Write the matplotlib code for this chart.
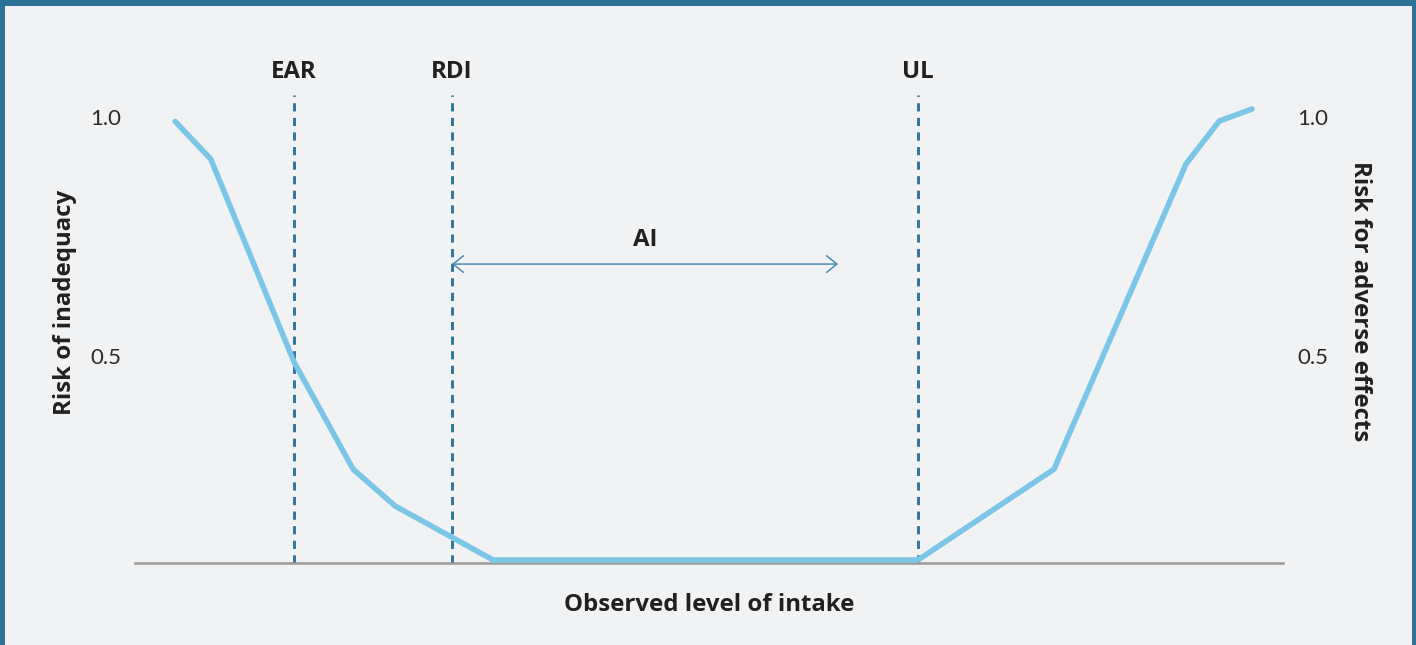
import matplotlib.pyplot as plt
from matplotlib.patches import Rectangle

# --- data (schematic: intake in arbitrary units, risk 0..1) ---
intake_left = [3.5, 6.6, 13.85, 19.0, 22.65, 31.2]
risk_left = [0.99, 0.905, 0.447, 0.205, 0.122, 0.0]
intake_right = [68.2, 80.05, 91.55, 94.45, 97.3]
risk_right = [0.0, 0.205, 0.894, 0.991, 1.018]

ref_names = ["EAR", "RDI", "UL"]
ref_intake = [13.85, 27.6, 68.2]

ai_start, ai_end = 27.6, 61.25
ai_level = 0.668

ytick_pos = [0.46, 1.0]
ytick_labels = ["0.5", "1.0"]

BG = "#f1f2f4"
BORDER = "#2d7398"
LINE = "#7bc5e7"
DASH = "#2f7499"
TEXT = "#231f20"

plt.rcParams["font.family"] = ["Lato", "DejaVu Sans"]
LABEL_FONT = dict(family=["Open Sans", "DejaVu Sans"], fontsize=17.3, fontweight="bold", color=TEXT)

W, H = 1416, 645
fig = plt.figure(figsize=(W / 100, H / 100), dpi=100, facecolor=BG)

# frame around the card (top, left, right only)
for x0, y0, w, h in [(0, H - 6, W, 6), (0, 0, 5, H), (W - 4, 0, 4, H)]:
    fig.add_artist(Rectangle((x0 / W, y0 / H), w / W, h / H, transform=fig.transFigure,
                             facecolor=BORDER, edgecolor="none"))

ax = fig.add_axes([135 / W, (H - 563.1) / H, 1148 / W, 534.7 / H])
ax.set_facecolor(BG)
ax.set_xlim(0, 100)
ax.set_ylim(-0.007, 1.2)

# curves
ax.plot(intake_left + intake_right, risk_left + risk_right, color=LINE, lw=4.0,
        solid_capstyle="round", solid_joinstyle="round", zorder=3)

# reference lines
for name, x in zip(ref_names, ref_intake):
    ax.vlines(x, -0.007, 1.05, colors=DASH, lw=2.1, linestyles=(0, (2.8, 2.2)), zorder=2)
    ax.text(x, 1.102, name, ha="center", va="center", clip_on=False, **LABEL_FONT)

# AI range arrow
ax.annotate("", xy=(ai_end, ai_level), xytext=(ai_start, ai_level),
            arrowprops=dict(arrowstyle="<->,head_length=0.75,head_width=0.6",
                            color="#4a8cb1", lw=1.1, shrinkA=0, shrinkB=0))
ax.text((ai_start + ai_end) / 2, 0.722, "AI", ha="center", va="center", **LABEL_FONT)

for side in ["top", "left", "right"]:
    ax.spines[side].set_visible(False)
ax.spines["bottom"].set_color("#9a9a9a")
ax.spines["bottom"].set_linewidth(1.8)
ax.set_xticks([])
ax.set_yticks(ytick_pos)
ax.set_yticklabels(ytick_labels)
ax.tick_params(axis="y", length=0, pad=10, labelsize=16, labelcolor="#2a2a2a",
               labelleft=True, labelright=True)

ax.text(-0.0614, 0.488, "Risk of inadequacy", rotation=90, ha="center", va="center",
        transform=ax.transAxes, **LABEL_FONT)
ax.text(1.067, 0.490, "Risk for adverse effects", rotation=-90, ha="center", va="center",
        transform=ax.transAxes, **LABEL_FONT)
ax.text(0.5, -0.079, "Observed level of intake", ha="center", va="center",
        transform=ax.transAxes, **LABEL_FONT)

fig.savefig("out.png", dpi=100, facecolor=BG)
